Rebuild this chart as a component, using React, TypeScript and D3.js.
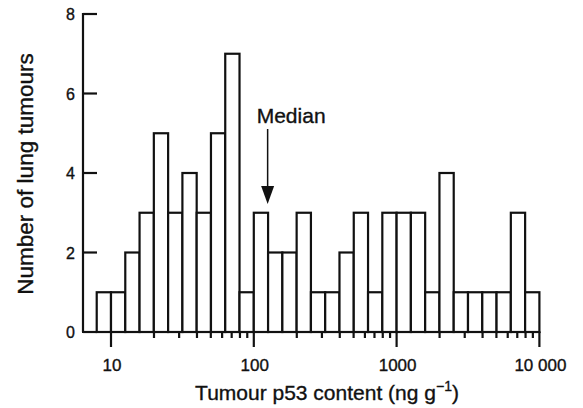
import React, { useEffect, useRef } from "react";
import * as d3 from "d3";

// counts per bin, bins are 0.1 log10 wide starting at 10^0.9
const counts = [1, 1, 2, 3, 5, 3, 4, 3, 5, 7, 1, 3, 2, 2, 3, 1, 1, 2, 3, 1, 3, 3, 3, 1, 4, 1, 1, 1, 1, 3, 1];
const firstBinLog = 0.9;
const binLogWidth = 0.1;
const majorTicks = [10, 100, 1000, 10000];
const majorLabels = ["10", "100", "1000", "10 000"];
const yTicks = [0, 2, 4, 6, 8];
const medianValue = 125;

const W = 583;
const H = 408;
const FONT = "'Liberation Sans', Arial, Helvetica, sans-serif";
const INK = "#111";

export default function App() {
  const ref = useRef<SVGSVGElement>(null);

  useEffect(() => {
    const svg = d3.select(ref.current);
    svg.selectAll("*").remove();

    const x = d3.scaleLog().domain([10, 10000]).range([111, 539.4]);
    const y = d3.scaleLinear().domain([0, 8]).range([332, 14]);
    const x0 = x.invert(83);

    // helper for the slightly heavy scanned text
    const txt = (sel: any, size: number) =>
      sel
        .attr("font-size", size)
        .attr("font-family", FONT)
        .attr("fill", INK)
        .attr("stroke", INK)
        .attr("stroke-width", 0.35);

    // bars
    const bins = counts.map((c, i) => ({
      lo: Math.pow(10, firstBinLog + i * binLogWidth),
      hi: Math.pow(10, firstBinLog + (i + 1) * binLogWidth),
      c,
    }));
    svg
      .append("g")
      .selectAll("rect")
      .data(bins)
      .enter()
      .append("rect")
      .attr("x", (d) => x(d.lo))
      .attr("y", (d) => y(d.c))
      .attr("width", (d) => x(d.hi) - x(d.lo))
      .attr("height", (d) => y(0) - y(d.c))
      .attr("fill", "#fff")
      .attr("stroke", INK)
      .attr("stroke-width", 2.2);

    // y axis
    const ga = svg.append("g").attr("stroke", INK).attr("stroke-width", 2.2);
    ga.append("line").attr("x1", x(x0)).attr("x2", x(x0)).attr("y1", y(8) - 1).attr("y2", y(0));
    ga.selectAll(".yt")
      .data(yTicks)
      .enter()
      .append("line")
      .attr("x1", x(x0))
      .attr("x2", x(x0) + 14)
      .attr("y1", (d) => y(d))
      .attr("y2", (d) => y(d));

    // x axis
    ga.append("line").attr("x1", x(x0) - 1).attr("x2", x(10000) + 1).attr("y1", y(0)).attr("y2", y(0));
    const minor: number[] = [];
    [10, 100, 1000].forEach((dec) => {
      for (let k = 2; k <= 9; k++) minor.push(dec * k);
    });
    ga.selectAll(".mn")
      .data(minor)
      .enter()
      .append("line")
      .attr("x1", (d) => x(d))
      .attr("x2", (d) => x(d))
      .attr("y1", y(0))
      .attr("y2", y(0) + 6);
    ga.selectAll(".mj")
      .data(majorTicks)
      .enter()
      .append("line")
      .attr("x1", (d) => x(d))
      .attr("x2", (d) => x(d))
      .attr("y1", y(0))
      .attr("y2", y(0) + 15);

    // labels
    txt(
      svg
        .selectAll(".xl")
        .data(majorTicks)
        .enter()
        .append("text")
        .attr("x", (d) => x(d) + 1)
        .attr("y", 371)
        .attr("text-anchor", "middle"),
      17
    ).text((d, i) => majorLabels[i]);

    txt(
      svg
        .selectAll(".yl")
        .data(yTicks)
        .enter()
        .append("text")
        .attr("x", 75)
        .attr("y", (d) => y(d) + 6)
        .attr("text-anchor", "end"),
      16
    ).text((d) => d);

    const xt = txt(
      svg.append("text").attr("x", 327).attr("y", 400).attr("text-anchor", "middle"),
      21
    );
    xt.append("tspan").text("Tumour p53 content (ng g");
    xt.append("tspan").attr("font-size", 14).attr("dy", -9).text("\u22121");
    xt.append("tspan").attr("dy", 9).text(")");

    txt(
      svg
        .append("text")
        .attr("transform", "translate(33,174) rotate(-90)")
        .attr("text-anchor", "middle"),
      22.5
    ).text("Number of lung tumours");

    // median arrow
    const mx = x(medianValue);
    txt(
      svg
        .append("text")
        .attr("x", mx + 23.5)
        .attr("y", 123)
        .attr("text-anchor", "middle"),
      21
    ).text("Median");
    svg
      .append("line")
      .attr("x1", mx)
      .attr("x2", mx)
      .attr("y1", 129)
      .attr("y2", 188)
      .attr("stroke", INK)
      .attr("stroke-width", 1.5);
    svg
      .append("path")
      .attr("d", `M${mx - 6.5},186 L${mx + 6.5},186 L${mx},204 Z`)
      .attr("fill", INK);
  }, []);

  return (
    <svg
      ref={ref}
      width={W}
      height={H}
      style={{ position: "absolute", left: 0, top: 0, background: "#fff" }}
    />
  );
}
